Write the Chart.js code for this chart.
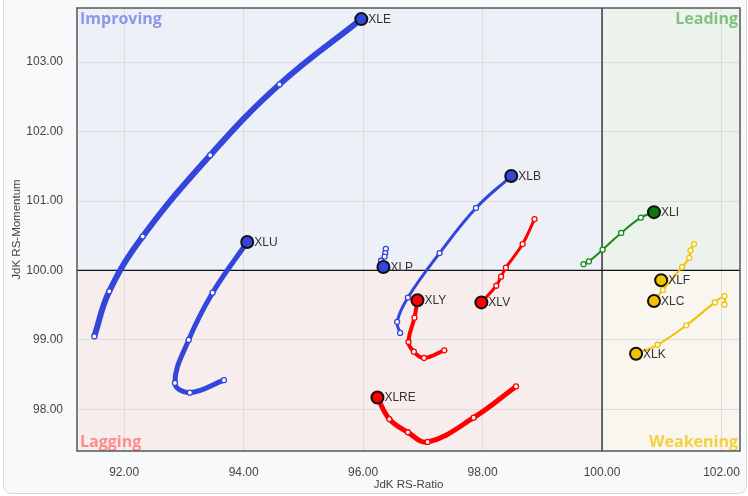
<!DOCTYPE html>
<html>
<head>
<meta charset="utf-8">
<script src="https://cdn.jsdelivr.net/npm/chart.js@4.4.1/dist/chart.umd.min.js"></script>
<style>
    html, body { margin: 0; padding: 0; background: #ffffff; }
    #wrap {
        position: absolute; left: 3px; top: -10px; width: 742px; height: 502px;
        border: 1px solid #d8d8d8; border-radius: 8px; background: #f8f9fb;
    }
    #box { position: absolute; left: 0; top: 0; width: 748px; height: 496px; }
</style>
</head>
<body>
<div id="wrap"></div>
<div id="box"><canvas id="rrg"></canvas></div>
<script>
// tick labels
const xTicks = [92, 94, 96, 98, 100, 102];
const yTicks = [98, 99, 100, 101, 102, 103];

// tails: oldest point first, last point is the current position
const sectors = ['XLE', 'XLU', 'XLB', 'XLP', 'XLY', 'XLV', 'XLRE', 'XLI', 'XLF', 'XLC', 'XLK'];
const xleRatio    = [91.50, 91.75, 92.31, 93.44, 94.60, 95.97];
const xleMomentum = [99.05, 99.70, 100.49, 101.66, 102.68, 103.62];
const xluRatio    = [93.67, 93.10, 92.85, 93.08, 93.48, 94.06];
const xluMomentum = [98.42, 98.24, 98.38, 99.00, 99.68, 100.41];
const xlbRatio    = [96.62, 96.57, 96.75, 97.28, 97.89, 98.48];
const xlbMomentum = [99.10, 99.26, 99.61, 100.25, 100.90, 101.36];
const xlpRatio    = [96.38, 96.37, 96.36, 96.30, 96.34];
const xlpMomentum = [100.31, 100.25, 100.20, 100.14, 100.05];
const xlyRatio    = [97.36, 97.02, 96.85, 96.76, 96.86, 96.91];
const xlyMomentum = [98.85, 98.74, 98.83, 98.97, 99.32, 99.57];
const xlvRatio    = [98.87, 98.67, 98.39, 98.31, 98.23, 97.98];
const xlvMomentum = [100.74, 100.38, 100.04, 99.91, 99.78, 99.54];
const xlreRatio    = [98.56, 97.85, 97.08, 96.75, 96.44, 96.24];
const xlreMomentum = [98.33, 97.88, 97.53, 97.67, 97.86, 98.17];
const xliRatio    = [99.69, 99.78, 100.01, 100.32, 100.65, 100.87];
const xliMomentum = [100.09, 100.13, 100.30, 100.54, 100.76, 100.84];
const xlfRatio    = [100.99];
const xlfMomentum = [99.86];
const xlcRatio    = [101.54, 101.48, 101.46, 101.34, 101.02, 100.87];
const xlcMomentum = [100.38, 100.29, 100.18, 100.05, 99.72, 99.56];
const xlkRatio    = [102.05, 102.05, 101.89, 101.41, 100.93, 100.57];
const xlkMomentum = [99.51, 99.63, 99.54, 99.21, 98.93, 98.80];

const BLUE = '#3346dc', RED = '#ff0000', GREEN = '#1a8a1a', GOLD = '#f2c200';

function tail(name, xs, ys, color, width, headColor) {
    const n = xs.length;
    return {
        label: name,
        data: xs.map((x, i) => ({ x: x, y: ys[i] })),
        showLine: true,
        tension: 0.4,
        borderColor: color,
        borderWidth: width,
        pointRadius: xs.map((_, i) => i === n - 1 ? 6 : 2.5),
        pointBackgroundColor: xs.map((_, i) => i === n - 1 ? (headColor || color) : '#ffffff'),
        pointBorderColor: xs.map((_, i) => i === n - 1 ? '#111111' : color),
        pointBorderWidth: xs.map((_, i) => i === n - 1 ? 2 : 1.3)
    };
}

const datasets = [
    tail('XLE', xleRatio, xleMomentum, BLUE, 6),
    tail('XLU', xluRatio, xluMomentum, BLUE, 5),
    tail('XLB', xlbRatio, xlbMomentum, BLUE, 3),
    tail('XLP', xlpRatio, xlpMomentum, BLUE, 1.5),
    tail('XLRE', xlreRatio, xlreMomentum, RED, 5),
    tail('XLY', xlyRatio, xlyMomentum, RED, 4),
    tail('XLV', xlvRatio, xlvMomentum, RED, 3),
    tail('XLI', xliRatio, xliMomentum, GREEN, 2, '#0b7a0b'),
    tail('XLC', xlcRatio, xlcMomentum, GOLD, 2),
    tail('XLF', xlfRatio, xlfMomentum, GOLD, 2),
    tail('XLK', xlkRatio, xlkMomentum, GOLD, 2)
];

// quadrant shading, centre lines, labels
const rrgPlugin = {
    id: 'rrg',
    beforeDraw(chart) {
        const { ctx, chartArea: a, scales } = chart;
        const cx = scales.x.getPixelForValue(100);
        const cy = scales.y.getPixelForValue(100);
        ctx.save();
        ctx.fillStyle = '#eef0f8'; ctx.fillRect(a.left, a.top, cx - a.left, cy - a.top);
        ctx.fillStyle = '#ecf3ec'; ctx.fillRect(cx, a.top, a.right - cx, cy - a.top);
        ctx.fillStyle = '#f8eded'; ctx.fillRect(a.left, cy, cx - a.left, a.bottom - cy);
        ctx.fillStyle = '#f8f6ee'; ctx.fillRect(cx, cy, a.right - cx, a.bottom - cy);
        ctx.restore();
    },
    beforeDatasetsDraw(chart) {
        const { ctx, chartArea: a, scales } = chart;
        const cx = scales.x.getPixelForValue(100);
        const cy = scales.y.getPixelForValue(100);
        ctx.save();
        ctx.font = 'bold 16px "Open Sans", "Liberation Sans", sans-serif';
        ctx.textBaseline = 'top';
        ctx.textAlign = 'left';
        ctx.fillStyle = '#8c97ec'; ctx.fillText('Improving', a.left + 3, a.top + 3);
        ctx.textAlign = 'right';
        ctx.fillStyle = '#80c080'; ctx.fillText('Leading', a.right - 2, a.top + 3);
        ctx.textBaseline = 'bottom';
        ctx.textAlign = 'left';
        ctx.fillStyle = '#ff8c8c'; ctx.fillText('Lagging', a.left + 3, a.bottom - 1);
        ctx.textAlign = 'right';
        ctx.fillStyle = '#f3d040'; ctx.fillText('Weakening', a.right - 2, a.bottom - 1);

        ctx.strokeStyle = '#111111';
        ctx.lineWidth = 1.2;
        ctx.beginPath();
        ctx.moveTo(cx, a.top); ctx.lineTo(cx, a.bottom);
        ctx.moveTo(a.left, cy); ctx.lineTo(a.right, cy);
        ctx.stroke();
        ctx.restore();
    },
    afterDatasetsDraw(chart) {
        const { ctx, chartArea: a } = chart;
        ctx.save();
        ctx.font = '12px "Liberation Sans", Arial, sans-serif';
        ctx.fillStyle = '#333333';
        ctx.textAlign = 'left';
        ctx.textBaseline = 'middle';
        chart.data.datasets.forEach((ds, i) => {
            const pts = chart.getDatasetMeta(i).data;
            const head = pts[pts.length - 1];
            ctx.fillText(ds.label, head.x + 7, head.y + 0.5);
        });
        ctx.strokeStyle = '#555555';
        ctx.lineWidth = 1.5;
        ctx.strokeRect(a.left, a.top, a.right - a.left, a.bottom - a.top);
        ctx.restore();
    }
};

const tickFont = { family: '"Liberation Sans", Arial, sans-serif', size: 12 };
const titleFont = { family: '"Liberation Sans", Arial, sans-serif', size: 11.5 };
const hiddenTicks = { color: '#dddddd', drawTicks: true, tickLength: 14, tickColor: 'rgba(0,0,0,0)' };

new Chart(document.getElementById('rrg').getContext('2d'), {
    type: 'scatter',
    data: { datasets: datasets },
    options: {
        responsive: true,
        maintainAspectRatio: false,
        animation: false,
        layout: { padding: { left: 0, right: 8, top: 6, bottom: 0 } },
        plugins: {
            legend: { display: false },
            tooltip: { enabled: false }
        },
        scales: {
            x: {
                type: 'linear',
                min: 91.21,
                max: 102.31,
                afterBuildTicks: (s) => { s.ticks = xTicks.map(v => ({ value: v })); },
                afterFit: (s) => { s.height = 45; },
                grid: hiddenTicks,
                border: { display: false },
                ticks: {
                    padding: 0,
                    color: '#444444',
                    font: tickFont,
                    callback: (v) => Number(v).toFixed(2)
                },
                title: {
                    display: true,
                    text: 'JdK RS-Ratio',
                    color: '#444444',
                    font: titleFont,
                    padding: { top: 0, bottom: 4 }
                }
            },
            y: {
                type: 'linear',
                min: 97.40,
                max: 103.78,
                afterBuildTicks: (s) => { s.ticks = yTicks.map(v => ({ value: v })); },
                afterFit: (s) => { s.width = 77; },
                grid: hiddenTicks,
                border: { display: false },
                ticks: {
                    padding: 0,
                    color: '#444444',
                    font: tickFont,
                    callback: (v) => Number(v).toFixed(2)
                },
                title: {
                    display: true,
                    text: 'JdK RS-Momentum',
                    color: '#444444',
                    font: titleFont,
                    padding: { top: 10, bottom: 0 }
                }
            }
        }
    },
    plugins: [rrgPlugin]
});
</script>
</body>
</html>
